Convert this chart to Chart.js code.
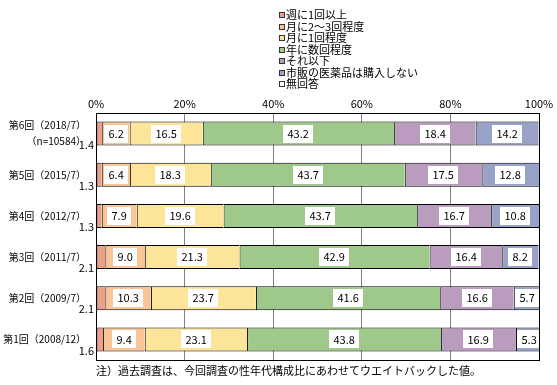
<!DOCTYPE html>
<html>
<head>
<meta charset="utf-8">
<script src="https://cdn.jsdelivr.net/npm/chart.js@4.4.1/dist/chart.umd.min.js"></script>
<style>
  body { margin: 0; background: #fff; }
  #wrap { position: relative; width: 557px; height: 385px; font-family: 'Noto Sans CJK JP', sans-serif; }
  #legend { position: absolute; left: 279px; top: 9px; font-size: 11px; line-height: 11.5px; color: #000; }
  #legend div { white-space: nowrap; }
  #legend span.box { display: inline-block; width: 4px; height: 4px; border: 1px solid #333; margin-right: 1px; vertical-align: 1px; }
  #note { position: absolute; left: 96px; top: 362px; font-size: 11px; color: #000; white-space: nowrap; }
</style>
</head>
<body>
<div id="wrap">
  <canvas id="chart" width="557" height="385"></canvas>
  <div id="legend"></div>
  <div id="note">注）過去調査は、今回調査の性年代構成比にあわせてウエイトバックした値。</div>
</div>
<script>
// categories, top to bottom
const categories = [
    ['第6回（2018/7）', '（n=10584）'],
    '第5回（2015/7）',
    '第4回（2012/7）',
    '第3回（2011/7）',
    '第2回（2009/7）',
    '第1回（2008/12）'
];

const seriesNames = ['週に1回以上', '月に2～3回程度', '月に1回程度', '年に数回程度', 'それ以下', '市販の医薬品は購入しない', '無回答'];
const seriesColors = ['#EE9F88', '#F9C597', '#FCE598', '#9EC98A', '#BA9DBE', '#98A1C8', '#FFFFFF'];

// values (%)
const weekly      = [1.4, 1.3, 1.3, 2.1, 2.1, 1.6];
const twoThree    = [6.2, 6.4, 7.9, 9.0, 10.3, 9.4];
const monthly     = [16.5, 18.3, 19.6, 21.3, 23.7, 23.1];
const fewPerYear  = [43.2, 43.7, 43.7, 42.9, 41.6, 43.8];
const less        = [18.4, 17.5, 16.7, 16.4, 16.6, 16.9];
const noPurchase  = [14.2, 12.8, 10.8, 8.2, 5.7, 5.3];
const noAnswer    = [0.1, 0, 0, 0.1, 0, 0];

const tickValues = [0, 20, 40, 60, 80, 100];

const allSeries = [weekly, twoThree, monthly, fewPerYear, less, noPurchase, noAnswer];
const FONT = "'Noto Sans CJK JP', sans-serif";

// legend
const legendEl = document.getElementById('legend');
seriesNames.forEach((name, i) => {
    const row = document.createElement('div');
    row.innerHTML = '<span class="box" style="background:' + seriesColors[i] + '"></span>' + name;
    legendEl.appendChild(row);
});

// value labels + plot frame
const labelPlugin = {
    id: 'valueLabels',
    afterDatasetsDraw(chart) {
        const ctx = chart.ctx;
        const area = chart.chartArea;
        ctx.save();
        ctx.font = '11px ' + FONT;
        ctx.textBaseline = 'middle';
        chart.data.datasets.forEach((ds, i) => {
            const meta = chart.getDatasetMeta(i);
            meta.data.forEach((bar, j) => {
                const v = ds.data[j];
                const txt = v.toFixed(1);
                if (i === 0) {
                    ctx.fillStyle = '#000';
                    ctx.textAlign = 'right';
                    ctx.fillText(txt, area.left - 2, bar.y + bar.height / 2 - 1);
                    return;
                }
                if (i === 6 || v < 1) return;
                const left = Math.min(bar.base, bar.x);
                const right = Math.max(bar.base, bar.x);
                const cx = (left + right) / 2;
                const tw = ctx.measureText(txt).width;
                const w = tw + 9;
                const h = bar.height - 6;
                let bx = Math.round(cx - w / 2);
                if (bx < left + 1) bx = Math.round(left + 1);
                ctx.fillStyle = '#fff';
                ctx.fillRect(bx, Math.round(bar.y - h / 2), Math.round(w), Math.round(h));
                ctx.fillStyle = '#000';
                ctx.textAlign = 'center';
                ctx.fillText(txt, bx + w / 2, bar.y);
            });
        });
        ctx.strokeStyle = '#000';
        ctx.lineWidth = 1;
        ctx.strokeRect(Math.round(area.left) + 0.5, Math.round(area.top) + 0.5,
            Math.round(area.right - area.left), Math.round(area.bottom - area.top));
        ctx.restore();
    }
};

const ctx = document.getElementById('chart').getContext('2d');
const chart = new Chart(ctx, {
    type: 'bar',
    data: {
        labels: categories,
        datasets: allSeries.map((d, i) => ({
            label: seriesNames[i],
            data: d,
            backgroundColor: seriesColors[i],
            borderColor: '#000',
            borderWidth: { top: 1, bottom: 1, left: 1, right: 0 },
            borderSkipped: false,
            categoryPercentage: 1,
            barPercentage: 0.585
        }))
    },
    options: {
        indexAxis: 'y',
        responsive: false,
        animation: false,
        layout: { padding: { left: 0, right: 18, top: 0, bottom: 25 } },
        plugins: {
            legend: { display: false },
            tooltip: { enabled: false }
        },
        scales: {
            x: {
                position: 'top',
                stacked: true,
                min: 0,
                max: 100,
                afterBuildTicks: (scale) => { scale.ticks = tickValues.map(v => ({ value: v })); },
                afterFit: (scale) => { scale.height = 113; },
                ticks: {
                    callback: (v) => v + '%',
                    font: { family: FONT, size: 11 },
                    color: '#000',
                    padding: 3,
                    maxRotation: 0
                },
                grid: { color: '#808080', drawTicks: false },
                border: { display: false }
            },
            y: {
                stacked: true,
                afterFit: (scale) => { scale.width = 96; },
                ticks: {
                    font: { family: FONT, size: 10, lineHeight: 1.6 },
                    color: '#000',
                    padding: 2
                },
                grid: { display: false },
                border: { display: false }
            }
        }
    },
    plugins: [labelPlugin]
});
</script>
</body>
</html>
